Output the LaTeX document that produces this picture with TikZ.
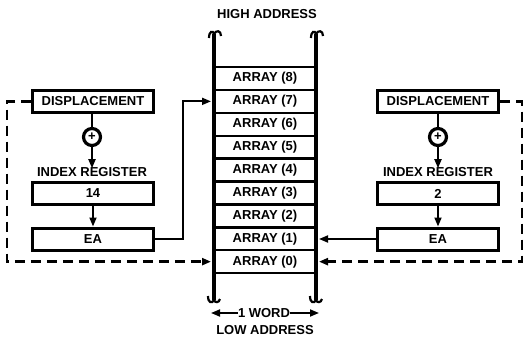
\documentclass[tikz,border=0pt]{standalone}
\usepackage{fontspec}
\setmainfont{Liberation Sans}
\usetikzlibrary{arrows.meta}
\tikzset{
  lbl/.style={font=\bfseries\fontsize{13}{15}\selectfont, inner sep=0pt},
  regbox/.style={lbl, draw, line width=3pt, minimum height=22pt, minimum width=121pt},
  cell/.style={lbl, draw, line width=2.4pt, minimum width=102pt, minimum height=22.9pt},
  rail/.style={line width=3.6pt},
  arr/.style={line width=1.8pt, -{Triangle[length=9pt,width=7pt]}},
  dashline/.style={line width=2.5pt, dash pattern=on 10pt off 6pt, -{Triangle[length=9pt,width=7pt]}},
  adder/.style={circle, draw, line width=3.2pt, minimum size=17pt, inner sep=0pt, font=\bfseries\fontsize{13}{13}\selectfont},
}
\begin{document}
\begin{tikzpicture}[x=1pt,y=-1pt]
\useasboundingbox (0,0) rectangle (523,340);
% memory cells
\node[cell] (a8) at (265,78.45) {ARRAY (8)};
\node[cell] (a7) at (265,101.35) {ARRAY (7)};
\node[cell] (a6) at (265,124.25) {ARRAY (6)};
\node[cell] (a5) at (265,147.15) {ARRAY (5)};
\node[cell] (a4) at (265,170.05) {ARRAY (4)};
\node[cell] (a3) at (265,192.95) {ARRAY (3)};
\node[cell] (a2) at (265,215.85) {ARRAY (2)};
\node[cell] (a1) at (265,238.75) {ARRAY (1)};
\node[cell] (a0) at (265,261.65) {ARRAY (0)};
% rails
\draw[rail] (214,34) -- (214,300);
\draw[rail] (316,34) -- (316,300);
\draw[line width=2.2pt] (209,38) .. controls (209,31) and (213,30) .. (214,34) .. controls (216,30) and (221,30) .. (221,36);
\draw[line width=2.2pt] (311,38) .. controls (311,31) and (315,30) .. (316,34) .. controls (318,30) and (323,30) .. (323,36);
\draw[line width=2.2pt] (208,296) .. controls (208,303) and (212,304) .. (214,300) .. controls (215,303) and (219,303) .. (220,299);
\draw[line width=2.2pt] (310,296) .. controls (310,303) and (314,304) .. (316,300) .. controls (317,303) and (321,303) .. (322,299);
% titles
\node[lbl] (high) at (267,14) {HIGH ADDRESS};
\node[lbl] (low) at (265,330) {LOW ADDRESS};
\node[lbl] (word) at (264,313) {1 WORD};
\coordinate (wl) at (211,313);
\coordinate (wr) at (319,313);
\draw[arr] (word.west) -- (wl);
\draw[arr] (word.east) -- (wr);
% left side
\node[regbox] (dispL) at (93,101.5) {DISPLACEMENT};
\node[adder] (addL) at (92,137) {+};
\node[lbl] (irL) at (92,172) {INDEX REGISTER};
\node[regbox] (idxL) at (93,193.5) {14};
\node[regbox] (eaL) at (93,239) {EA};
\draw[line width=1.8pt] (dispL.south -| addL) -- (addL.north);
\draw[arr] (addL.south) -- ([yshift=-1pt]irL.north);
\draw[arr] (idxL.south) -- (eaL.north);
\draw[arr, shorten >=1.8pt] (eaL.east) -- ++(28,0) |- (a7.west);
\draw[dashline, shorten >=1.8pt] (dispL.west) -- ++(-24,0) |- (a0.west);
% right side
\node[regbox] (dispR) at (438,101.5) {DISPLACEMENT};
\node[adder] (addR) at (438,137) {+};
\node[lbl] (irR) at (438,172) {INDEX REGISTER};
\node[regbox] (idxR) at (438,193.5) {2};
\node[regbox] (eaR) at (438,239) {EA};
\draw[line width=1.8pt] (dispR.south) -- (addR.north);
\draw[arr] (addR.south) -- ([yshift=-1pt]irR.north);
\draw[arr] (idxR.south) -- (eaR.north);
\draw[arr, shorten >=1.8pt] (eaR.west) -- (eaR.west -| a1.east);
\draw[dashline, shorten >=1.8pt] (dispR.east) -- ++(22,0) |- (a0.east);
\end{tikzpicture}
\end{document}
